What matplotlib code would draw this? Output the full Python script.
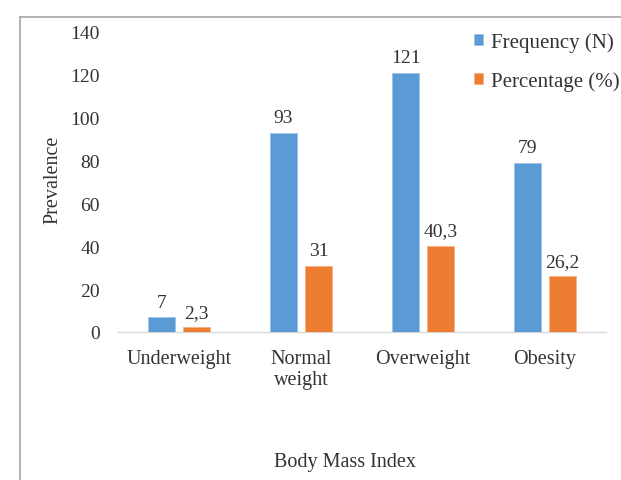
import matplotlib
matplotlib.use("Agg")
import matplotlib.pyplot as plt
import numpy as np
from matplotlib.lines import Line2D

categories = ["Underweight", "Normal\nweight", "Overweight", "Obesity"]
frequency = [7, 93, 121, 79]
percentage = [2.3, 31, 40.3, 26.2]
freq_labels = ["7", "93", "121", "79"]
pct_labels = ["2,3", "31", "40,3", "26,2"]
series_names = ["Frequency (N)", "Percentage (%)"]
yticks = [0, 20, 40, 60, 80, 100, 120, 140]

plt.rcParams['font.family'] = ['Liberation Serif', 'DejaVu Serif']
W, H = 621, 481
fig = plt.figure(figsize=(W / 100, H / 100), dpi=100)
ax = fig.add_axes([118 / W, 1 - 333 / H, 488 / W, 300 / H])

blue = '#5B9BD5'
orange = '#ED7D31'
txt = '#333333'
x = np.arange(len(categories))
bw = 0.22
off = 0.143
b1 = ax.bar(x - off, frequency, bw, color=blue, edgecolor='#9DC3E6', linewidth=0.6, label=series_names[0], zorder=3)
b2 = ax.bar(x + off, percentage, bw, color=orange, edgecolor='#F4B183', linewidth=0.6, label=series_names[1], zorder=3)

for bars, labs in ((b1, freq_labels), (b2, pct_labels)):
    for rect, lab in zip(bars, labs):
        ax.annotate(lab, (rect.get_x() + rect.get_width() / 2, rect.get_height()),
                    xytext=(0, 4.5), textcoords='offset points', ha='center', va='bottom',
                    fontsize=14, color=txt)

ax.set_xlim(-0.5, len(categories) - 0.5)
ax.set_ylim(0, 140)
ax.set_yticks(yticks)
ax.set_yticklabels([str(v) for v in yticks])
ax.set_xticks(x)
ax.set_xticklabels(categories, linespacing=1.1)
ax.tick_params(axis='y', length=0, pad=13, labelsize=14, labelcolor=txt)
ax.tick_params(axis='x', length=0, pad=12.5, labelsize=14.5, labelcolor=txt)
for s in ['top', 'right', 'left']:
    ax.spines[s].set_visible(False)
ax.spines['bottom'].set_color('#D9D9D9')
ax.spines['bottom'].set_linewidth(1.0)

fig.text(53 / W, 1 - 180 / H, 'Prevalence', rotation=90, ha='center', va='center',
         fontsize=14.5, color=txt)
fig.text(345 / W, 1 - 463 / H, 'Body Mass Index', ha='center', va='center',
         fontsize=14.5, color=txt)

leg = fig.legend(handles=[b1, b2], labels=series_names, loc='upper left',
                 bbox_to_anchor=(474 / W, 1 - 33 / H), frameon=False, fontsize=15,
                 handlelength=0.45, handleheight=0.45, handletextpad=0.35,
                 labelspacing=0.95, borderaxespad=0, borderpad=0)
for t in leg.get_texts():
    t.set_color(txt)

# outer frame (top and left edges visible)
fig.add_artist(Line2D([20 / W, 1], [1 - 18 / H, 1 - 18 / H], transform=fig.transFigure,
                      color='#A6A6A6', linewidth=1.2))
fig.add_artist(Line2D([20 / W, 20 / W], [0, 1 - 18 / H], transform=fig.transFigure,
                      color='#A6A6A6', linewidth=1.2))

fig.savefig('out.png', dpi=100)
